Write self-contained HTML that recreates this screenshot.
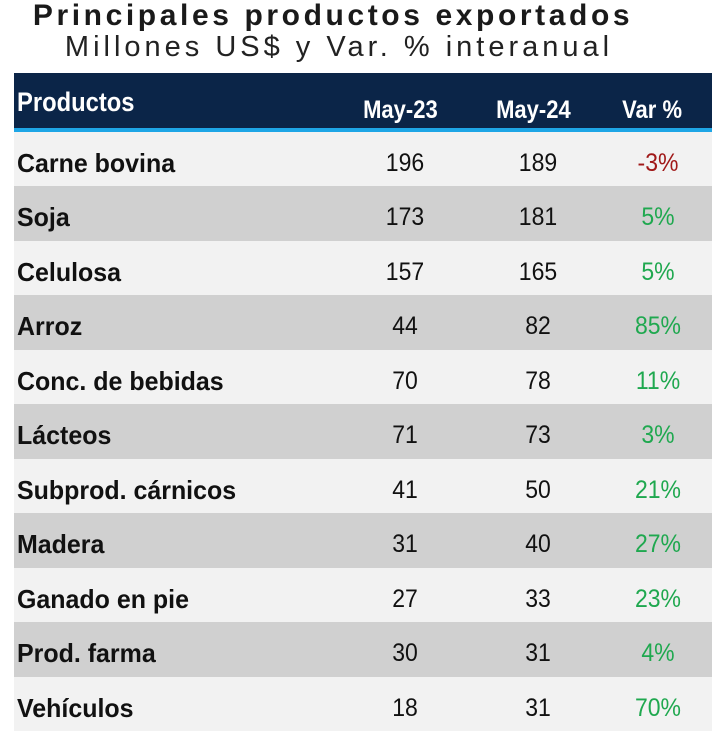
<!DOCTYPE html>
<html><head><meta charset="utf-8"><style>
body{margin:0;width:717px;height:738px;background:#fff;position:relative;overflow:hidden;font-family:"Liberation Sans",sans-serif;}
.t1{position:absolute;left:0;width:666px;text-align:center;top:-1px;font-size:30px;font-weight:bold;letter-spacing:3.6px;color:#1a1a1a;}
.t2{position:absolute;left:0;width:678px;text-align:center;top:31px;font-size:29px;letter-spacing:4px;color:#222;}
.hd{position:absolute;left:14px;top:73px;width:698px;height:55px;background:#0b2548;}
.hl{position:absolute;left:14px;top:128px;width:698px;height:4px;background:#1ea6e6;}
.hd span{position:absolute;color:#fff;font-weight:bold;font-size:25px;transform:scaleX(0.88);}
.row{position:absolute;left:14px;width:698px;height:55px;}
.row span{position:absolute;top:17px;font-size:25px;color:#111;transform:scaleX(0.92);}
.n{font-weight:bold;left:3px;font-size:26px!important;top:16px!important;transform:scaleX(0.96)!important;transform-origin:left;}
.c1{left:351px;width:80px;text-align:center;}
.c2{left:484px;width:80px;text-align:center;}
.c3{left:604px;width:80px;text-align:center;color:#1fa84f!important;}
.neg{color:#a01818!important;}
</style></head><body>
<div class="t1">Principales productos exportados</div>
<div class="t2">Millones US$ y Var. % interanual</div>
<div class="hd"><span style="left:3px;top:14px;font-size:27px;transform-origin:left">Productos</span><span style="left:344px;top:23px">May-23</span><span style="left:477px;top:23px">May-24</span><span style="left:604px;top:23px">Var %</span></div>
<div class="hl"></div>
<div class="row" style="top:132px;background:#f2f2f2"><span class="n">Carne bovina</span><span class="c1">196</span><span class="c2">189</span><span class="c3 neg">-3%</span></div>
<div class="row" style="top:186px;background:#d0d0d0"><span class="n">Soja</span><span class="c1">173</span><span class="c2">181</span><span class="c3">5%</span></div>
<div class="row" style="top:241px;background:#f2f2f2"><span class="n">Celulosa</span><span class="c1">157</span><span class="c2">165</span><span class="c3">5%</span></div>
<div class="row" style="top:295px;background:#d0d0d0"><span class="n">Arroz</span><span class="c1">44</span><span class="c2">82</span><span class="c3">85%</span></div>
<div class="row" style="top:350px;background:#f2f2f2"><span class="n">Conc. de bebidas</span><span class="c1">70</span><span class="c2">78</span><span class="c3">11%</span></div>
<div class="row" style="top:404px;background:#d0d0d0"><span class="n">Lácteos</span><span class="c1">71</span><span class="c2">73</span><span class="c3">3%</span></div>
<div class="row" style="top:459px;background:#f2f2f2"><span class="n">Subprod. cárnicos</span><span class="c1">41</span><span class="c2">50</span><span class="c3">21%</span></div>
<div class="row" style="top:513px;background:#d0d0d0"><span class="n">Madera</span><span class="c1">31</span><span class="c2">40</span><span class="c3">27%</span></div>
<div class="row" style="top:568px;background:#f2f2f2"><span class="n">Ganado en pie</span><span class="c1">27</span><span class="c2">33</span><span class="c3">23%</span></div>
<div class="row" style="top:622px;background:#d0d0d0"><span class="n">Prod. farma</span><span class="c1">30</span><span class="c2">31</span><span class="c3">4%</span></div>
<div class="row" style="top:677px;background:#f2f2f2;height:54px"><span class="n">Vehículos</span><span class="c1">18</span><span class="c2">31</span><span class="c3">70%</span></div>
</body></html>
